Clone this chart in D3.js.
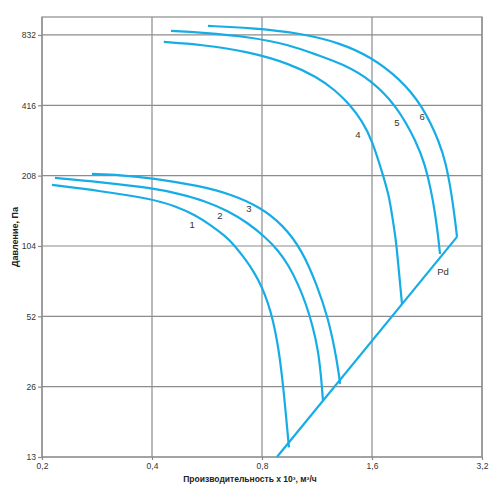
<!DOCTYPE html>
<html><head><meta charset="utf-8">
<script src="https://cdn.jsdelivr.net/npm/d3@7/dist/d3.min.js"></script>
<style>html,body{margin:0;padding:0;background:#fff;}svg{display:block;font-family:"Liberation Sans",Arial,sans-serif;}</style>
</head><body>
<svg id="c" width="500" height="500"></svg>
<script>
// ---- data ----
const xTicks = [0.2, 0.4, 0.8, 1.6, 3.2];
const xTickLabels = ["0,2", "0,4", "0,8", "1,6", "3,2"];
const yTicks = [13, 26, 52, 104, 208, 416, 832];
const yTickLabels = ["13", "26", "52", "104", "208", "416", "832"];
const xTitle = "Производительность x 10³, м³/ч";
const yTitle = "Давление, Па";

const curve1 = [[0.213,189.8],[0.288,178.9],[0.400,165.3],[0.462,154.3],[0.525,141.2],[0.584,126.7],[0.634,114.8],[0.675,104.0],[0.719,91.5],[0.761,80.5],[0.800,69.4],[0.831,59.3],[0.857,50.2],[0.885,39.2],[0.907,29.2],[0.925,21.7],[0.948,14.3]];
const curve2 = [[0.217,203.3],[0.288,195.4],[0.400,184.3],[0.477,173.7],[0.559,162.1],[0.646,146.9],[0.732,130.5],[0.815,113.7],[0.885,100.0],[0.948,85.4],[1.004,71.5],[1.056,58.7],[1.103,46.8],[1.139,37.3],[1.160,29.2],[1.175,22.6]];
const curve3 = [[0.274,211.5],[0.327,209.4],[0.400,203.3],[0.541,187.9],[0.654,173.7],[0.790,152.8],[0.913,127.9],[1.029,100.0],[1.131,70.8],[1.213,51.2],[1.267,37.3],[1.300,29.2],[1.308,26.7]];
const curve4 = [[0.431,776.7],[0.541,757.8],[0.742,704],[0.954,625.3],[1.131,550],[1.267,484.1],[1.393,417.5],[1.503,356.6],[1.600,295.7],[1.715,209.4],[1.781,170.3],[1.815,141.2],[1.861,110.3],[1.885,88.8],[1.933,58.7]];
const curve5 = [[0.451,865.7],[0.541,852.9],[0.742,816],[0.954,754.1],[1.131,683.4],[1.350,619.2],[1.590,534],[1.873,413.3],[2.125,287.1],[2.235,231.2],[2.321,180.6],[2.380,144.0],[2.425,116.0],[2.456,96.1]];
const curve6 = [[0.569,909.4],[0.742,891.6],[1.016,848.7],[1.308,769.1],[1.590,670.1],[1.909,539.3],[2.193,417.5],[2.456,287.1],[2.551,231.2],[2.616,189.8],[2.666,155.8],[2.700,134.4],[2.734,113.7]];
const pdLine = [[0.879,13],[2.734,113.7]];
const series = [curve1, curve2, curve3, curve4, curve5, curve6];

const labelText = ["1","2","3","4","5","6","Pd"];
const labelPos = [[0.515,128],[0.614,141],[0.737,149.8],[1.465,310.5],[1.873,349.6],[2.193,370.9],[2.502,80.5]];

// ---- drawing ----
const svg = d3.select("#c");
const x = d3.scaleLog().domain([0.2, 3.2]).range([42, 482]);
const y = d3.scaleLog().domain([13, 993]).range([457, 17]);
const gridColor = "#8c8c8c";
const blue = "#16ade6";

// frame
svg.append("rect").attr("x", x.range()[0]).attr("y", y.range()[1])
  .attr("width", x.range()[1]-x.range()[0]).attr("height", y.range()[0]-y.range()[1])
  .attr("fill", "none").attr("stroke", gridColor).attr("stroke-width", 1.2);

// grid
svg.append("g").selectAll("line").data(xTicks).join("line")
  .attr("x1", d=>x(d)).attr("x2", d=>x(d)).attr("y1", y.range()[1]).attr("y2", y.range()[0])
  .attr("stroke", gridColor).attr("stroke-width", 1.2);
svg.append("g").selectAll("line").data(yTicks).join("line")
  .attr("y1", d=>y(d)).attr("y2", d=>y(d)).attr("x1", x.range()[0]).attr("x2", x.range()[1])
  .attr("stroke", gridColor).attr("stroke-width", 1.2);

// axes
const xAxis = d3.axisBottom(x).tickValues(xTicks).tickSize(3).tickPadding(3)
  .tickFormat((d,i)=>xTickLabels[i]);
const yAxis = d3.axisLeft(y).tickValues(yTicks).tickSize(4).tickPadding(2)
  .tickFormat((d,i)=>yTickLabels[i]);
const gx = svg.append("g").attr("transform", `translate(0,${y.range()[0]})`).call(xAxis);
const gy = svg.append("g").attr("transform", `translate(${x.range()[0]},0)`).call(yAxis);
[gx, gy].forEach(g=>{
  g.select(".domain").remove();
  g.selectAll(".tick line").attr("stroke", gridColor).attr("stroke-width", 1.2);
  g.selectAll(".tick text").attr("fill", "#333").attr("font-size", "8.5px")
    .attr("font-family", "'Liberation Sans', Arial, sans-serif");
});

// axis titles
svg.append("text").attr("x", 250).attr("y", 482).attr("text-anchor", "middle")
  .attr("font-size", "8.5px").attr("font-weight", "bold").attr("fill", "#222").text(xTitle);
svg.append("text").attr("transform", `translate(15,${(y.range()[0]+y.range()[1])/2}) rotate(-90)`)
  .attr("text-anchor", "middle").attr("dominant-baseline", "central")
  .attr("font-size", "9px").attr("font-weight", "bold").attr("fill", "#222").text(yTitle);

// curves
const line = d3.line().x(d=>x(d[0])).y(d=>y(d[1])).curve(d3.curveBasis);
svg.append("g").selectAll("path").data(series).join("path")
  .attr("d", line).attr("fill", "none").attr("stroke", blue).attr("stroke-width", 2.2)
  .attr("stroke-linecap", "butt");
svg.append("path").attr("d", d3.line().x(d=>x(d[0])).y(d=>y(d[1]))(pdLine))
  .attr("fill", "none").attr("stroke", blue).attr("stroke-width", 2.2);

// labels
svg.append("g").selectAll("text").data(labelPos).join("text")
  .attr("x", d=>x(d[0])).attr("y", d=>y(d[1]))
  .attr("text-anchor", "middle").attr("dominant-baseline", "central")
  .attr("font-size", "9.5px").attr("fill", "#333").text((d,i)=>labelText[i]);
</script>
</body></html>
